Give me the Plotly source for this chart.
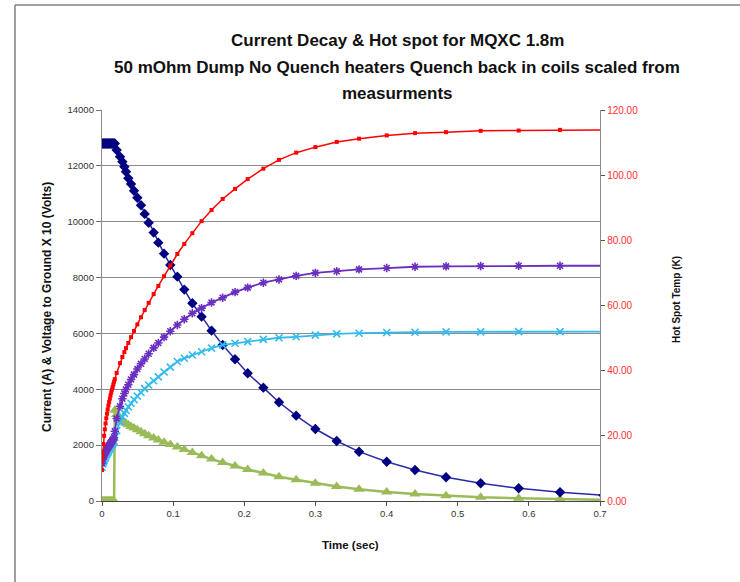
import plotly.graph_objects as go

# Time base (s)
time_s = [0.000, 0.001, 0.002, 0.003, 0.004, 0.005, 0.006, 0.007, 0.008, 0.009,
          0.010, 0.011, 0.012, 0.013, 0.014, 0.015, 0.016, 0.017, 0.018,
          0.0206, 0.0253, 0.0286, 0.0314, 0.0337, 0.037, 0.0408, 0.045, 0.0497, 0.0548,
          0.060, 0.0656, 0.0726, 0.0792, 0.0872, 0.096, 0.1059, 0.1157, 0.127, 0.140,
          0.154, 0.1696, 0.187, 0.2048, 0.2268, 0.2488, 0.2729, 0.2999, 0.3299, 0.3613,
          0.4002, 0.440, 0.4836, 0.5323, 0.5857, 0.6438, 0.705]

# Magnet current (A)
current_a = [12800] * 19 + [
    12570, 12330, 12150, 11970, 11790, 11555, 11350, 11110, 10860, 10590,
    10280, 9965, 9610, 9250, 8857, 8451, 8033, 7570, 7080, 6600,
    6100, 5586, 5074, 4572, 4058, 3534, 3056, 2578, 2149, 1766,
    1408, 1110, 848, 633, 454, 311, 205]

# Voltage to ground x 10 (V)
voltage_x10 = [0] * 18 + [
    3250, 3100, 2960, 2880, 2820, 2780, 2730, 2670, 2610, 2550, 2480,
    2410, 2340, 2260, 2180, 2100, 2020, 1930, 1840, 1740, 1620,
    1500, 1380, 1250, 1130, 1000, 870, 760, 640, 520, 420,
    320, 250, 185, 135, 100, 65, 40]

# Hot spot temperature (K)
hot_spot_k = [9.5, 14.0, 17.5, 20.0, 22.0, 23.8, 25.4, 26.8, 28.1, 29.3,
              30.4, 31.4, 32.4, 33.3, 34.2, 35.0, 35.8, 36.6, 37.4,
              39.3, 42.3, 44.2, 45.7, 46.9, 48.5, 50.3, 52.2, 54.2, 56.4,
              58.6, 60.8, 63.5, 66.0, 69.0, 72.3, 75.8, 78.9, 82.2, 85.9,
              89.3, 92.7, 95.8, 98.8, 102.0, 104.7, 106.9, 108.6, 110.2, 111.2,
              112.2, 112.9, 113.2, 113.6, 113.7, 113.9, 113.9]

# Coil temperatures (K)
coil_a_k = [11.6, 12.9, 13.5, 14.1, 14.7, 15.1, 15.5, 15.9, 16.3, 16.6,
            17.0, 17.3, 17.7, 18.0, 18.3, 18.7, 19.0, 19.5, 21.4,
            25.3, 29.1, 31.4, 33.0, 34.2, 35.7, 37.3, 38.8, 40.5, 42.1,
            43.6, 45.2, 47.0, 48.5, 50.3, 52.1, 54.0, 55.8, 57.6, 59.2,
            60.9, 62.4, 64.1, 65.5, 67.0, 68.0, 69.1, 70.0, 70.5, 71.1,
            71.5, 71.9, 72.0, 72.1, 72.2, 72.2, 72.2]

coil_b_k = [10.3, 11.4, 12.0, 12.5, 13.0, 13.5, 14.1, 14.5, 14.9, 15.3,
            15.8, 16.2, 16.6, 17.1, 17.4, 17.7, 18.1, 18.4, 19.5,
            21.6, 24.3, 25.8, 26.9, 27.8, 28.9, 30.0, 31.1, 32.2, 33.3,
            34.5, 35.6, 36.9, 38.1, 39.6, 41.1, 42.8, 43.8, 44.8, 45.8,
            46.9, 47.9, 48.4, 48.9, 49.6, 50.1, 50.4, 50.9, 51.3, 51.5,
            51.7, 51.8, 51.9, 51.9, 52.0, 52.0, 52.0]

left_ticks = [0, 2000, 4000, 6000, 8000, 10000, 12000, 14000]
right_ticks = [0, 20, 40, 60, 80, 100, 120]
x_ticks = [0, 0.1, 0.2, 0.3, 0.4, 0.5, 0.6, 0.7]

title_lines = ["Current Decay & Hot spot for MQXC 1.8m",
               "50 mOhm Dump No Quench heaters Quench back in coils scaled from",
               "measurments"]

W, H = 740, 582
L, R, T, B = 102, 600, 110, 501

fig = go.Figure()

fig.add_trace(go.Scatter(
    x=time_s, y=voltage_x10, mode="lines+markers", yaxis="y",
    line=dict(color="#9BBB59", width=2.5),
    marker=dict(symbol="triangle-up", size=10, color="#9BBB59"),
    showlegend=False))
fig.add_trace(go.Scatter(
    x=time_s, y=coil_b_k, mode="lines+markers", yaxis="y2",
    line=dict(color="#33BBEE", width=1.8),
    marker=dict(symbol="x-thin-open", size=7, line=dict(color="#33BBEE", width=1.6)),
    showlegend=False))
fig.add_trace(go.Scatter(
    x=time_s, y=coil_a_k, mode="lines+markers", yaxis="y2",
    line=dict(color="#6A2FC0", width=1.8),
    marker=dict(symbol="asterisk-open", size=7, line=dict(color="#6A2FC0", width=1.6)),
    showlegend=False))
fig.add_trace(go.Scatter(
    x=time_s, y=hot_spot_k, mode="lines+markers", yaxis="y2",
    line=dict(color="#FF0000", width=1.5),
    marker=dict(symbol="square", size=4, color="#FF0000"),
    showlegend=False))
fig.add_trace(go.Scatter(
    x=time_s, y=current_a, mode="lines+markers", yaxis="y",
    line=dict(color="#2A2AA8", width=1.5),
    marker=dict(symbol="diamond", size=8, color="#000080"),
    showlegend=False))

tick_font = dict(family="Liberation Sans, Arial, sans-serif", size=9.5, color="#333333")

fig.update_layout(
    width=W, height=H, autosize=False,
    margin=dict(l=L, r=W - R, t=T, b=H - B, pad=0),
    paper_bgcolor="white", plot_bgcolor="white",
    xaxis=dict(range=[0, 0.7], tickvals=x_ticks, ticktext=[str(v) for v in x_ticks],
               ticks="outside", ticklen=4, tickcolor="#555", showgrid=False,
               showline=True, linecolor="#444", linewidth=1, zeroline=False,
               tickfont=tick_font),
    yaxis=dict(range=[0, 14000], tickvals=left_ticks,
               ticktext=[str(v) for v in left_ticks], ticks="outside", ticklen=5,
               tickcolor="#777", showgrid=True, gridcolor="#8C8C8C", gridwidth=1.3,
               showline=True, linecolor="#8C8C8C", linewidth=1.3, zeroline=False,
               tickfont=tick_font),
    yaxis2=dict(range=[0, 120], overlaying="y", side="right", tickvals=right_ticks,
                ticktext=["%.2f" % v for v in right_ticks], ticks="outside", ticklen=4,
                tickcolor="#555", showgrid=False, showline=True, linecolor="#8C8C8C",
                linewidth=1.3, zeroline=False,
                tickfont=dict(family="Liberation Sans, Arial, sans-serif", size=10,
                              color="#FF3030")),
)

# Outer frame (top and left edges)
fig.add_shape(type="line", xref="paper", yref="paper",
              x0=(15 - L) / (R - L), x1=(745 - L) / (R - L),
              y0=(B - 5) / (B - T), y1=(B - 5) / (B - T),
              line=dict(color="#808080", width=1.5))
fig.add_shape(type="line", xref="paper", yref="paper",
              x0=(15 - L) / (R - L), x1=(15 - L) / (R - L),
              y0=(B - 5) / (B - T), y1=(B - 590) / (B - T),
              line=dict(color="#808080", width=1.5))


def px_x(x):
    return (x - L) / (R - L)


def px_y(y):
    return (B - y) / (B - T)


title_font = dict(family="Liberation Sans, Arial, sans-serif", size=17, color="#111111")
for text, ypx in zip(title_lines, [40, 67, 93]):
    fig.add_annotation(text="<b>%s</b>" % text, xref="paper", yref="paper",
                       x=px_x(397), y=px_y(ypx), showarrow=False,
                       xanchor="center", yanchor="middle", font=title_font)

fig.add_annotation(text="<b>Time (sec)</b>", xref="paper", yref="paper",
                   x=px_x(350), y=px_y(545), showarrow=False,
                   xanchor="center", yanchor="middle",
                   font=dict(family="Liberation Sans, Arial, sans-serif", size=11.5,
                             color="#111111"))
fig.add_annotation(text="<b>Current (A) & Voltage to Ground X 10 (Volts)</b>",
                   xref="paper", yref="paper", x=px_x(47), y=px_y(307),
                   showarrow=False, textangle=-90, xanchor="center", yanchor="middle",
                   font=dict(family="Liberation Sans, Arial, sans-serif", size=12,
                             color="#111111"))
fig.add_annotation(text="<b>Hot Spot Temp (K)</b>", xref="paper", yref="paper",
                   x=px_x(676), y=px_y(300), showarrow=False, textangle=-90,
                   xanchor="center", yanchor="middle",
                   font=dict(family="Liberation Sans, Arial, sans-serif", size=10,
                             color="#111111"))

fig.write_html("out.html")
